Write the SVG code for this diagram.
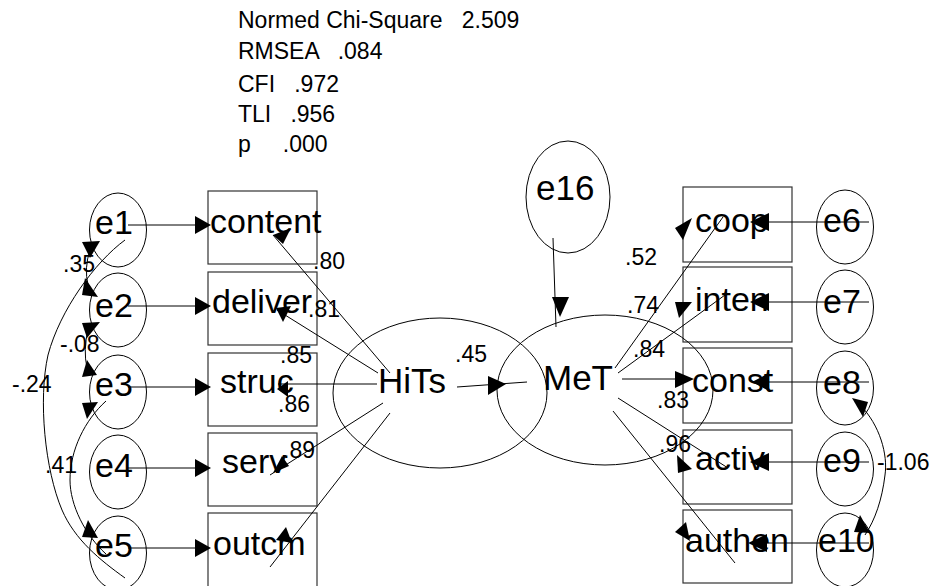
<svg xmlns="http://www.w3.org/2000/svg" width="933" height="586" viewBox="0 0 933 586">
<style>
.bg{fill:#fff}
.box{fill:none;stroke:#333;stroke-width:1.2}
.ell{fill:none;stroke:#000;stroke-width:1}
.ln{fill:none;stroke:#000;stroke-width:1}
.ah{fill:#000;stroke:none}
.lab{font-family:"Liberation Sans",Arial,sans-serif;font-size:34px;fill:#000}
.big{font-family:"Liberation Sans",Arial,sans-serif;font-size:35px;fill:#000}
.num{font-family:"Liberation Sans",Arial,sans-serif;font-size:23px;fill:#000}
.fit{font-family:"Liberation Sans",Arial,sans-serif;font-size:23px;fill:#000}
</style>
<rect class="bg" x="0" y="0" width="933" height="586"/>
<g id="fit-indices">
<text class="fit" x="238" y="28" xml:space="preserve">Normed Chi-Square   2.509</text>
<text class="fit" x="238" y="59" xml:space="preserve">RMSEA   .084</text>
<text class="fit" x="238" y="92" xml:space="preserve">CFI   .972</text>
<text class="fit" x="238" y="122" xml:space="preserve">TLI   .956</text>
<text class="fit" x="238" y="152" xml:space="preserve">p     .000</text>
</g>
<g id="content"><rect class="box" x="208" y="191" width="109" height="73"/><text class="lab" x="210" y="233">content</text></g>
<g id="deliver"><rect class="box" x="208" y="272" width="109" height="73"/><text class="lab" x="212" y="313">deliver</text></g>
<g id="struc"><rect class="box" x="208" y="353" width="109" height="73"/><text class="lab" x="220" y="393">struc</text></g>
<g id="serv"><rect class="box" x="208" y="433" width="109" height="73"/><text class="lab" x="222" y="473">serv</text></g>
<g id="outcm"><rect class="box" x="208" y="513" width="109" height="80"/><text class="lab" x="213" y="555">outcm</text></g>
<g id="coop"><rect class="box" x="683" y="187" width="109" height="75"/><text class="lab" x="695" y="232">coop</text></g>
<g id="inten"><rect class="box" x="683" y="267" width="109" height="75"/><text class="lab" x="695" y="311">inten</text></g>
<g id="const"><rect class="box" x="683" y="348" width="109" height="75"/><text class="lab" x="692" y="392">const</text></g>
<g id="activ"><rect class="box" x="683" y="430" width="109" height="74"/><text class="lab" x="695" y="470">activ</text></g>
<g id="authen"><rect class="box" x="683" y="510" width="109" height="73"/><text class="lab" x="685" y="552">authen</text></g>
<g id="e1"><ellipse class="ell" cx="118" cy="230" rx="28.5" ry="37"/><text class="lab" x="95" y="234">e1</text></g>
<g id="e2"><ellipse class="ell" cx="118" cy="310" rx="28.5" ry="37"/><text class="lab" x="95" y="317">e2</text></g>
<g id="e3"><ellipse class="ell" cx="118" cy="392" rx="28.5" ry="37"/><text class="lab" x="95" y="396">e3</text></g>
<g id="e4"><ellipse class="ell" cx="118" cy="472" rx="28.5" ry="37"/><text class="lab" x="95" y="477">e4</text></g>
<g id="e5"><ellipse class="ell" cx="118" cy="553" rx="28.5" ry="37"/><text class="lab" x="95" y="557">e5</text></g>
<g id="e6"><ellipse class="ell" cx="845" cy="227" rx="28.5" ry="37"/><text class="lab" x="823" y="232">e6</text></g>
<g id="e7"><ellipse class="ell" cx="845" cy="307" rx="28.5" ry="37"/><text class="lab" x="823" y="313">e7</text></g>
<g id="e8"><ellipse class="ell" cx="845" cy="388" rx="28.5" ry="37"/><text class="lab" x="823" y="394">e8</text></g>
<g id="e9"><ellipse class="ell" cx="845" cy="469" rx="28.5" ry="37"/><text class="lab" x="823" y="472">e9</text></g>
<g id="e10"><ellipse class="ell" cx="845" cy="550" rx="28.5" ry="37"/><text class="lab" x="818" y="552">e10</text></g>
<g id="e16"><ellipse class="ell" cx="568" cy="197" rx="42" ry="56"/><text class="big" x="536" y="200">e16</text></g>
<g id="HiTs"><ellipse class="ell" cx="440" cy="393" rx="107" ry="75"/><text class="big" x="378" y="393">HiTs</text></g>
<g id="MeT"><ellipse class="ell" cx="605" cy="390" rx="108" ry="75"/><text class="big" x="543" y="390">MeT</text></g>
<g id="connectors">
<path class="ln" d="M128,225H208M128,306H208M128,387H208M128,468H208M128,548H208"/>
<polygon class="ah" points="211,225 195,216 195,234"/>
<polygon class="ah" points="211,306 195,297 195,315"/>
<polygon class="ah" points="211,387 195,378 195,396"/>
<polygon class="ah" points="211,468 195,459 195,477"/>
<polygon class="ah" points="211,548 195,539 195,557"/>
<path class="ln" d="M869,222H752M869,302H752M869,382H752M869,462H752M869,543H752"/>
<polygon class="ah" points="750,222 769,213 769,231"/>
<polygon class="ah" points="750,302 769,293 769,311"/>
<polygon class="ah" points="752,382 769,373 769,391"/>
<polygon class="ah" points="750,462 769,453 769,471"/>
<polygon class="ah" points="748,543 767,534 767,552"/>
<path class="ln" d="M390,373L273,235M378,373L277,310M377,384L278,384M383,403L270,475M390,413L270,567"/>
<polygon class="ah" points="273,235 291,228 283,244"/>
<polygon class="ah" points="276,308 291,306 283,322"/>
<polygon class="ah" points="277,389 288,381 288,397"/>
<polygon class="ah" points="273,473 282,456 289,466"/>
<polygon class="ah" points="276,540 286,527 292,543"/>
<path class="ln" d="M615,368L723,217M618,373L725,295M622,379L690,379M618,398L728,468M613,411L735,563"/>
<polygon class="ah" points="675,228 692,218 683,240"/>
<polygon class="ah" points="675,302 692,302 679,318"/>
<polygon class="ah" points="675,371 675,388 694,379"/>
<polygon class="ah" points="677,455 692,469 678,473"/>
<polygon class="ah" points="675,532 686,522 690,541"/>
<path class="ln" d="M553,238L556,327"/>
<polygon class="ah" points="552,297 569,297 560,317"/>
<path class="ln" d="M457,387L527,382"/>
<polygon class="ah" points="488,376 488,395 506,384"/>
<path class="ln" d="M90,250Q84,268 88,285"/>
<polygon class="ah" points="82,242 100,241 90,258"/>
<polygon class="ah" points="85,278 82,295 98,297"/>
<path class="ln" d="M88,330Q83,350 87,368"/>
<polygon class="ah" points="82,323 100,322 87,338"/>
<polygon class="ah" points="87,360 82,377 97,375"/>
<path class="ln" d="M125,240C95,262 60,310 48,355C38,400 45,470 62,510C75,540 100,560 125,578"/>
<path class="ln" d="M106,401C85,420 70,450 70,480C70,505 85,535 106,554"/>
<polygon class="ah" points="82,403 98,402 87,419"/>
<polygon class="ah" points="88,520 82,537 98,538"/>
<path class="ln" d="M860,405C880,425 888,455 885,475C882,500 875,520 865,535"/>
<polygon class="ah" points="852,398 868,402 863,417"/>
<polygon class="ah" points="854,532 860,515 870,533"/>
</g>
<g id="labels">
<text class="num" x="313" y="269">.80</text>
<text class="num" x="308" y="317">.81</text>
<text class="num" x="280" y="363">.85</text>
<text class="num" x="278" y="412">.86</text>
<text class="num" x="283" y="458">.89</text>
<text class="num" x="455" y="362">.45</text>
<text class="num" x="625" y="265">.52</text>
<text class="num" x="627" y="313">.74</text>
<text class="num" x="633" y="357">.84</text>
<text class="num" x="657" y="408">.83</text>
<text class="num" x="659" y="452">.96</text>
<text class="num" x="63" y="272">.35</text>
<text class="num" x="60" y="352">-.08</text>
<text class="num" x="12" y="392">-.24</text>
<text class="num" x="45" y="473">.41</text>
<text class="num" x="877" y="470">-1.06</text>
</g>
</svg>
